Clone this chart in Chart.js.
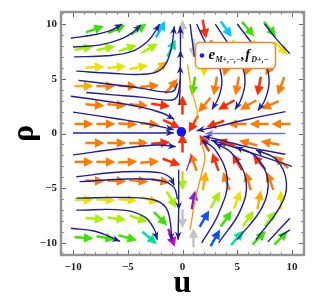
<!DOCTYPE html>
<html>
<head>
<meta charset="utf-8">
<script src="https://cdn.jsdelivr.net/npm/chart.js@4.4.0/dist/chart.umd.min.js"></script>
<style>
  html, body { margin: 0; padding: 0; background: #fff; }
  #wrap { width: 316px; height: 306px; }
</style>
</head>
<body>
<div id="wrap"><canvas id="plot" width="316" height="306"></canvas></div>
<script>
// axis
const xTicks = [-10, -5, 0, 5, 10];
const yTicks = [-10, -5, 0, 5, 10];

// streamlines, points are [u, rho], arrowhead at the last point
const leftStreams = [
    [[-10.2, 8.7], [-8.2, 9.0], [-6.6, 9.4], [-5.5, 10.0]],
    [[-10.0, 7.9], [-7.5, 8.1], [-5.7, 8.6], [-4.6, 9.2], [-3.8, 9.9]],
    [[-9.9, 7.0], [-6.9, 7.1], [-4.6, 7.5], [-3.2, 8.4], [-2.5, 9.3], [-2.1, 10.0]],
    [[-9.7, 5.7], [-6.5, 5.5], [-3.8, 5.4], [-2.2, 5.7], [-1.4, 6.6], [-0.95, 8.2], [-0.75, 9.8]],
    [[-10.2, 3.4], [-7.0, 2.95], [-4.0, 2.45], [-1.8, 1.85], [-0.75, 1.3]],
    [[-10.0, 1.95], [-6.0, 1.35], [-3.0, 0.85], [-0.8, 0.35]],
    [[-10.0, 0.05], [-0.8, 0.05]],
    [[-10.0, -1.95], [-5.4, -1.35], [-2.3, -1.05], [-0.6, -1.2]],
    [[-9.7, -3.95], [-5.4, -3.5], [-2.0, -3.6], [-1.05, -4.1], [-0.75, -4.75]],
    [[-9.7, -5.9], [-5.0, -5.85], [-2.5, -6.1], [-1.5, -6.8], [-1.1, -8.2], [-1.0, -9.8]],
    [[-9.7, -7.0], [-5.4, -7.0], [-3.5, -7.6], [-2.6, -8.7], [-2.3, -9.7]],
    [[-10.2, -8.65], [-7.9, -8.95], [-5.7, -9.85]]
];

// the two vertical streams on u = 0, cut where their arrowheads sit
const verticalStreams = [
    [[-0.3, 2.6], [-0.22, 4.2], [-0.2, 6.2]],
    [[-0.2, 6.2], [-0.18, 7.6]],
    [[-0.18, 7.6], [-0.2, 9.8]],
    [[-0.35, -3.3], [-0.35, -5.0], [-0.35, -7.0]],
    [[-0.35, -7.0], [-0.38, -8.5], [-0.4, -9.7]]
];

const rightStreams = [
    [[1.3, 10.0], [2.0, 8.5], [3.2, 6.5], [3.6, 4.8], [3.3, 3.3], [2.7, 2.2]],
    [[3.0, 10.0], [4.3, 8.0], [5.5, 6.0], [5.7, 4.5], [5.3, 3.0], [4.8, 2.2]],
    [[5.0, 10.0], [6.5, 8.0], [7.7, 6.0], [7.9, 4.5], [7.5, 3.0], [6.9, 2.1]],
    [[9.4, 2.0], [6.0, 1.3], [3.0, 0.6], [1.3, 0.25]],
    [[9.4, -1.9], [6.0, -1.25], [3.5, -0.6], [1.9, -0.25]],
    [[10.0, -3.0], [7.0, -2.0], [4.5, -1.2], [2.6, -0.6]],
    [[1.75, -10.0], [3.3, -7.3], [4.1, -4.25], [3.0, -1.5], [1.75, -0.6]],
    [[3.3, -10.0], [5.3, -7.0], [5.8, -4.25], [4.5, -1.8], [3.0, -0.9]],
    [[5.0, -9.7], [7.3, -6.7], [7.8, -4.25], [6.7, -2.1], [4.85, -1.2]],
    [[6.7, -9.7], [8.9, -6.7], [9.5, -4.55], [8.6, -2.4], [6.7, -1.5]]
];

// streams without an arrowhead
const openStreams = [
    [[-9.5, 4.85], [-6.6, 4.5], [-3.6, 4.1], [-1.7, 3.8], [-0.8, 3.9], [-0.45, 4.6]],
    [[-8.8, 3.75], [-6.6, 3.55], [-3.6, 3.3], [-1.5, 3.05], [-0.7, 3.15], [-0.38, 3.7], [-0.2, 5.0]],
    [[-9.4, -4.4], [-5.0, -4.15], [-2.0, -4.3], [-0.8, -4.9], [-0.45, -6.0]],
    [[0.7, 10.0], [0.9, 8.4], [1.1, 7.0]],
    [[7.5, 10.0], [8.6, 8.6], [9.8, 7.3]],
    [[7.8, -9.9], [9.8, -7.75]],
    [[8.9, -9.4], [9.8, -8.8]]
];

const axisStreamRight = [[9.4, 0.0], [2.1, 0.0]];

const colouredStreams = [
    [[0.45, 6.3], [0.75, 4.5], [1.1, 3.0], [1.35, 1.9], [1.25, 1.0]],
    [[0.7, -8.8], [1.15, -6.1], [1.75, -3.65], [2.05, -2.1], [1.6, -0.5]],
    [[0.35, -3.4], [0.85, -2.0]]
];
const colouredStreamColors = ['#ffa600', '#ff9000', '#7b2fbe'];

const fixedPoint = [-0.1, 0.15];

// vector arrows on a staggered grid
const arrowRows = [9.53, 7.79, 6.06, 4.33, 2.6, 0.87, -0.87, -2.6, -4.33, -6.06, -7.79, -9.53];
const evenCols = [-8, -6, -4, -2, 0, 2, 4, 6, 8];
const oddCols = [-9, -7, -5, -3, -1, 1, 3, 5, 7, 9];

// direction of each arrow in degrees, null = no arrow
const arrowAngles = [
    [20, 25, 35, 60, 90, -80, -55, -50, -50],
    [10, 12, 18, 30, 65, -90, -60, -60, -55, -45],
    [3, 5, 12, 40, null, -95, -105, -110, -120],
    [0, 0, -2, 5, 50, -100, -100, -100, -100, -110],
    [-5, -5, -5, -8, 90, -130, -150, -150, -155],
    [0, 0, -3, -5, -25, -120, -160, 180, 180, 180],
    [0, 0, 2, 5, 90, 120, 160, 165, 170],
    [0, 0, 3, 5, -20, 110, 110, 120, 130, 140],
    [-2, -3, -5, -10, -90, 80, 110, 105, 110],
    [0, -2, -5, -15, -60, 80, 60, 70, 80, 90],
    [-5, -8, -20, -45, -90, 60, 55, 55, 55],
    [-5, -10, -15, -40, -70, 90, 60, 50, 45, 45]
];
const arrowColors = [
    'GGGCWRCGG',
    'LLLLTWOYYY',
    'YYYAAYOOO',
    'AOOOOGOORO',
    'OOORROROO',
    'OOOORRROOO',
    'OOORRRROO',
    'OOOORORRRO',
    'OOOOLAOOO',
    'YYYYLPLYAY',
    'LLLGWBGLL',
    'GGGTMWBTGG'
];
const palette = {
    R: '#ff2e00', O: '#ff7a00', A: '#ffae00', Y: '#ece100', L: '#a6f000',
    G: '#3ee000', T: '#00e09a', C: '#00c8ff', B: '#1050ff', P: '#8a1ee0',
    M: '#d400d4', W: '#c4c4c4'
};

const navy = '#1e1e9c';
const serif = "'Liberation Serif', 'Times New Roman', serif";

function toXY(points) {
    return points.map(p => ({x: p[0], y: p[1]}));
}

function streamDataset(points, color, width) {
    return {
        data: toXY(points),
        showLine: true,
        borderColor: color,
        borderWidth: width || 1.4,
        pointRadius: 0,
        tension: 0.4,
        fill: false
    };
}

const headed = [...leftStreams, ...verticalStreams, ...rightStreams];

let datasets = [];
headed.forEach(s => datasets.push(streamDataset(s, navy)));
openStreams.forEach(s => datasets.push(streamDataset(s, navy)));
datasets.push(streamDataset(axisStreamRight, '#6472dc', 1.6));
colouredStreams.forEach((s, i) => datasets.push(streamDataset(s, colouredStreamColors[i], 1.3)));
datasets.push({
    data: [{x: fixedPoint[0], y: fixedPoint[1]}],
    pointRadius: 4.8,
    backgroundColor: '#1212ff',
    borderWidth: 0
});

function arrowHead(ctx, x0, y0, x1, y1, color, len, half) {
    let a = Math.atan2(y1 - y0, x1 - x0),
        dx = Math.cos(a), dy = Math.sin(a);
    let bx = x1 - dx * len, by = y1 - dy * len;
    ctx.fillStyle = color;
    ctx.beginPath();
    ctx.moveTo(x1, y1);
    ctx.lineTo(bx - dy * half, by + dx * half);
    ctx.lineTo(x1 - dx * len * 0.7, y1 - dy * len * 0.7);
    ctx.lineTo(bx + dy * half, by - dx * half);
    ctx.closePath();
    ctx.fill();
}

function vectorArrow(ctx, px, py, deg, color) {
    let a = deg * Math.PI / 180,
        dx = Math.cos(a), dy = -Math.sin(a);
    let L = 19, head = 9.5, hw = 4.8;
    let tx = px - dx * L / 2, ty = py - dy * L / 2,
        hx = px + dx * L / 2, hy = py + dy * L / 2,
        bx = hx - dx * head, by = hy - dy * head;
    ctx.strokeStyle = color;
    ctx.lineWidth = 2.5;
    ctx.beginPath();
    ctx.moveTo(tx, ty);
    ctx.lineTo(bx + dx, by + dy);
    ctx.stroke();
    ctx.fillStyle = color;
    ctx.beginPath();
    ctx.moveTo(hx, hy);
    ctx.lineTo(bx - dy * hw, by + dx * hw);
    ctx.lineTo(bx + dy * hw, by - dx * hw);
    ctx.closePath();
    ctx.fill();
}

const fieldPlugin = {
    id: 'field',
    beforeDatasetsDraw(chart) {
        const {ctx, chartArea: ca, scales: {x, y}} = chart;
        ctx.save();
        ctx.beginPath();
        ctx.rect(ca.left, ca.top, ca.right - ca.left, ca.bottom - ca.top);
        ctx.clip();
        arrowRows.forEach((rho, r) => {
            let cols = r % 2 === 0 ? evenCols : oddCols;
            cols.forEach((u, c) => {
                let ang = arrowAngles[r][c];
                if (ang === null || ang === undefined) return;
                vectorArrow(ctx, x.getPixelForValue(u), y.getPixelForValue(rho), ang, palette[arrowColors[r][c]]);
            });
        });
        ctx.restore();
    },
    afterDatasetsDraw(chart) {
        const {ctx, chartArea: ca, scales: {x, y}} = chart;
        ctx.save();
        ctx.beginPath();
        ctx.rect(ca.left, ca.top, ca.right - ca.left, ca.bottom - ca.top);
        ctx.clip();
        headed.forEach(s => {
            let p = s[s.length - 2], q = s[s.length - 1];
            arrowHead(ctx, x.getPixelForValue(p[0]), y.getPixelForValue(p[1]),
                x.getPixelForValue(q[0]), y.getPixelForValue(q[1]), navy, 8, 3.4);
        });
        let p = axisStreamRight[0], q = axisStreamRight[1];
        arrowHead(ctx, x.getPixelForValue(p[0]), y.getPixelForValue(p[1]),
            x.getPixelForValue(q[0]), y.getPixelForValue(q[1]), '#6472dc', 8, 3.4);
        ctx.restore();
    },
    afterDraw(chart) {
        const {ctx, chartArea: ca, scales: {x, y}} = chart;
        ctx.save();
        // frame ticks
        ctx.strokeStyle = '#666';
        ctx.lineWidth = 1;
        for (let v = -11; v <= 11; v++) {
            let len = v % 5 === 0 ? 5 : 2.5;
            let px = Math.round(x.getPixelForValue(v)) + 0.5,
                py = Math.round(y.getPixelForValue(v)) + 0.5;
            ctx.beginPath();
            ctx.moveTo(px, ca.bottom); ctx.lineTo(px, ca.bottom - len);
            ctx.moveTo(px, ca.top); ctx.lineTo(px, ca.top + len);
            ctx.moveTo(ca.left, py); ctx.lineTo(ca.left + len, py);
            ctx.moveTo(ca.right, py); ctx.lineTo(ca.right - len, py);
            ctx.stroke();
        }
        // frame
        ctx.strokeStyle = '#939393';
        ctx.lineWidth = 2.4;
        ctx.strokeRect(ca.left, ca.top, ca.right - ca.left, ca.bottom - ca.top);

        // legend box
        ctx.fillStyle = '#fff';
        ctx.strokeStyle = '#f08a28';
        ctx.lineWidth = 1.5;
        ctx.beginPath();
        ctx.roundRect(195.5, 42.5, 80, 26, 4);
        ctx.fill();
        ctx.stroke();
        ctx.fillStyle = '#1a1aff';
        ctx.beginPath();
        ctx.arc(202, 55.5, 2.3, 0, Math.PI * 2);
        ctx.fill();

        ctx.fillStyle = '#111';
        ctx.textBaseline = 'alphabetic';
        let tx = 208.5, base = 59;
        const big = 'italic bold 15px ' + serif, small = 'italic bold 8px ' + serif;
        [['e', big, 0], ['M+,\u2212,\u2212', small, 3], [',', big, 0], ['f', big, 0], ['D+,\u2212', small, 3]].forEach(part => {
            ctx.font = part[1];
            ctx.fillText(part[0], tx, base + part[2]);
            tx += ctx.measureText(part[0]).width + (part[0] === 'f' ? 1.2 : 0.3);
        });
        ctx.restore();
    }
};

const tickFont = {family: serif, size: 11, weight: 'bold'};
const minus = v => String(v).replace('-', '\u2212');

new Chart(document.getElementById('plot'), {
    type: 'scatter',
    data: {datasets: datasets},
    options: {
        responsive: false,
        animation: false,
        devicePixelRatio: 1,
        events: [],
        layout: {padding: {top: 12, right: 12, left: 0, bottom: 0}},
        plugins: {legend: {display: false}, tooltip: {enabled: false}},
        scales: {
            x: {
                type: 'linear', min: -11.1, max: 11.1,
                afterBuildTicks: axis => { axis.ticks = xTicks.map(v => ({value: v})); },
                afterFit: axis => { axis.height = 51; },
                grid: {display: false, drawTicks: false},
                border: {display: false},
                ticks: {font: tickFont, color: '#222', padding: 6, maxRotation: 0, callback: minus},
                title: {display: true, text: 'u', font: {family: serif, size: 32, weight: 'bold'}, color: '#000', padding: {bottom: 3}}
            },
            y: {
                type: 'linear', min: -11.1, max: 11.1,
                afterBuildTicks: axis => { axis.ticks = yTicks.map(v => ({value: v})); },
                afterFit: axis => { axis.width = 61; },
                grid: {display: false, drawTicks: false},
                border: {display: false},
                ticks: {font: tickFont, color: '#222', padding: 4, callback: minus},
                title: {display: true, text: '\u03c1', font: {family: serif, size: 32, weight: 'bold'}, color: '#000', padding: {top: 6}}
            }
        }
    },
    plugins: [fieldPlugin]
});
</script>
</body>
</html>
